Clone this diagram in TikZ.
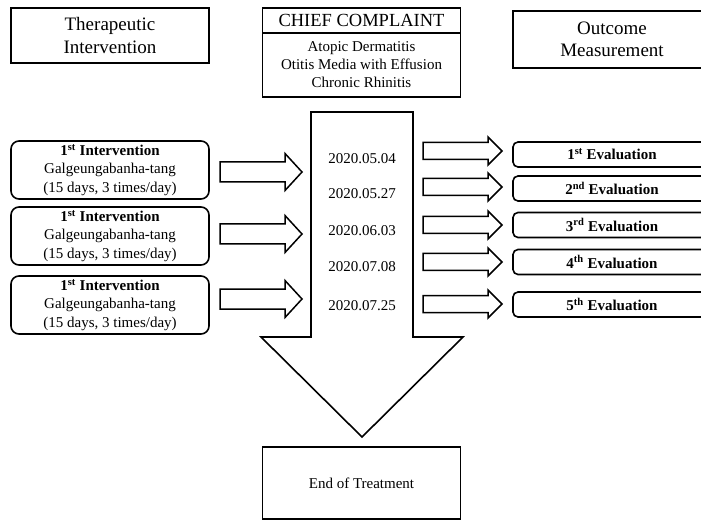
\documentclass[tikz,border=0pt]{standalone}
\usepackage{fontspec}
\setmainfont{Liberation Serif}
\usetikzlibrary{positioning}
\newcommand{\smalltxt}{\fontsize{15}{18.5}\selectfont}
\newcommand{\hdrtxt}{\fontsize{19}{22.5}\selectfont}
\tikzset{
  header/.style  = {rectangle, draw, line width=1.6pt, align=center,
                    minimum width=198pt, inner sep=0pt, outer sep=0pt,
                    font=\hdrtxt},
  dosebox/.style = {rectangle, rounded corners=8pt, draw, line width=1.6pt,
                    align=center, minimum width=198pt, minimum height=58pt,
                    inner sep=0pt, font=\smalltxt},
  evalbox/.style = {rectangle, rounded corners=5pt, draw, line width=1.6pt,
                    align=center, minimum width=198pt, minimum height=25pt,
                    inner sep=0pt, font=\smalltxt\bfseries},
  datelab/.style = {font=\smalltxt, inner sep=1pt},
  blockarr/.style= {draw, line width=1.5pt, line join=miter, fill=white},
  course/.style  = {draw, line width=1.6pt, line join=miter},
}

\begin{document}
\begin{tikzpicture}[x=1pt, y=-1pt]
\path [use as bounding box, clip] (0,0) rectangle (701,521);

% Header row
\node (thera) [header, minimum height=55pt] at (110,35.5) {Therapeutic\\Intervention};
\node (chief) [header, font=\fontsize{18.5}{22}\selectfont, minimum height=25pt] at (361.5,20.5) {CHIEF COMPLAINT};
\node (cc) [header, font=\fontsize{15}{18}\selectfont, minimum height=64pt, below=0pt of chief]
  {Atopic Dermatitis\\Otitis Media with Effusion\\Chronic Rhinitis};
\node (outcome) [header, minimum height=57pt] at (612,39.5) {Outcome\\Measurement};

% Treatment course (big arrow)
\draw [course] (311,112) -- (413,112) -- (413,337) -- (463,337)
  -- (362,437) -- (261,337) -- (311,337) -- cycle;
\foreach \d/\y [count=\i] in {2020.05.04/159, 2020.05.27/194, 2020.06.03/231,
                             2020.07.08/267, 2020.07.25/306}
  \node (d\i) [datelab] at (362,\y) {\d};

% Intervention column
\foreach \y/\a [count=\i] in {170/172, 236/234, 305/299} {
  \node (iv\i) [dosebox] at (110,\y)
    {\textbf{1\textsuperscript{st} Intervention}\\Galgeungabanha-tang\\(15 days, 3 times/day)};
  \draw [blockarr] (220,\a-10) -- (285,\a-10) -- (285,\a-18.5) -- (302,\a)
    -- (285,\a+18.5) -- (285,\a+10) -- (220,\a+10) -- cycle;
}

% Evaluation column
\foreach \y/\a/\s [count=\i] in {154.5/151/st, 188.5/187/nd, 225/225/rd,
                                 262/262/th, 304.5/304/th} {
  \draw [blockarr] (423,\a-8.5) -- (488,\a-8.5) -- (488,\a-14) -- (502,\a)
    -- (488,\a+14) -- (488,\a+8.5) -- (423,\a+8.5) -- cycle;
  \node (ev\i) [evalbox] at (612,\y) {\i\textsuperscript{\s} Evaluation};
}

% End
\node (end) [header, font=\smalltxt, minimum height=72pt] at (361.5,483) {End of Treatment};

\end{tikzpicture}
\end{document}
